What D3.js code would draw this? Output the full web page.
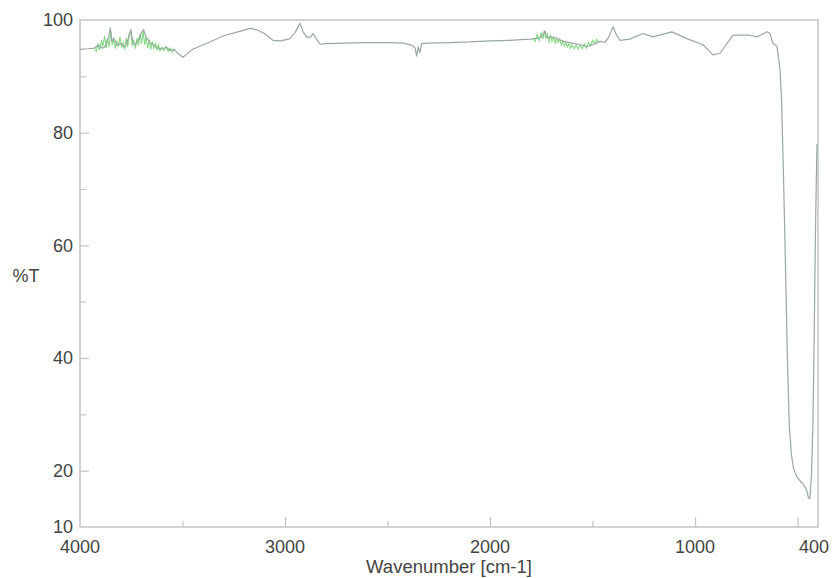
<!DOCTYPE html>
<html>
<head>
<meta charset="utf-8">
<script src="https://cdn.jsdelivr.net/npm/d3@7/dist/d3.min.js"></script>
<style>
  html, body { margin: 0; padding: 0; background: #fff; }
  svg { display: block; }
  text { font-family: "Liberation Sans", Arial, Helvetica, sans-serif; fill: #444; }
</style>
</head>
<body>
<svg id="chart" width="834" height="578"></svg>
<script>
// ---- data ----
const xTicks = [4000, 3000, 2000, 1000, 400];
const xMinorTicks = [3500, 2500, 1500, 500];
const yTicks = [100, 80, 60, 40, 20, 10];
const yMinorTicks = [90, 70, 50, 30];
const xTitle = "Wavenumber [cm-1]";
const yTitle = "%T";

// main (gray) spectrum: [wavenumber, %T]
const spectrum = [
  [4000, 94.8], [3960, 94.9], [3930, 95.0], [3910, 95.6], [3890, 95.0], [3880, 95.2],
  [3860, 97.0], [3852, 98.6], [3845, 96.2], [3835, 96.8], [3820, 95.5], [3800, 95.8],
  [3785, 95.2], [3770, 96.0], [3752, 98.3], [3742, 96.0], [3730, 95.6], [3715, 96.5],
  [3700, 97.8], [3690, 98.3], [3678, 97.0], [3668, 96.5], [3655, 95.8], [3640, 95.6],
  [3620, 95.0], [3600, 94.8], [3580, 95.2], [3560, 94.6], [3540, 94.8], [3520, 94.0],
  [3498, 93.4], [3480, 93.9], [3450, 94.8], [3366, 96.1], [3300, 97.2], [3230, 97.9],
  [3170, 98.5], [3140, 98.3], [3100, 97.6], [3059, 96.4], [3020, 96.3], [2976, 96.7],
  [2950, 97.8], [2927, 99.4], [2910, 97.8], [2893, 96.9], [2875, 97.0], [2863, 97.6],
  [2845, 96.5], [2829, 95.7], [2800, 95.8], [2700, 95.9], [2600, 96.0], [2500, 96.0],
  [2420, 95.9], [2380, 95.5], [2365, 95.0], [2358, 93.6], [2350, 95.2], [2342, 94.2],
  [2333, 95.8], [2300, 95.9], [2200, 96.0], [2100, 96.1], [2000, 96.3], [1900, 96.4],
  [1850, 96.5], [1800, 96.6], [1760, 96.8], [1745, 97.2], [1732, 98.0], [1722, 96.8],
  [1707, 97.0], [1680, 96.8], [1659, 96.5], [1640, 96.2], [1600, 95.9], [1560, 95.6],
  [1527, 95.3], [1500, 95.6], [1463, 96.2], [1440, 96.0], [1420, 97.0], [1400, 98.8],
  [1385, 97.5], [1366, 96.4], [1317, 96.6], [1255, 97.6], [1205, 97.0], [1113, 97.9],
  [1040, 96.7], [961, 95.6], [912, 93.8], [878, 94.1], [815, 97.3], [732, 97.3],
  [698, 97.0], [649, 97.9], [634, 97.6], [620, 95.9], [600, 95.3], [585, 91.1],
  [578, 86.0], [570, 75.0], [562, 62.0], [555, 50.0], [548, 38.0], [540, 28.0],
  [530, 23.0], [520, 20.5], [505, 19.0], [490, 18.3], [470, 17.5], [455, 16.5],
  [447, 15.2], [440, 15.0], [432, 19.0], [425, 28.0], [420, 40.0], [415, 55.0],
  [410, 68.0], [405, 78.0]
];

// noisy (green) segments: water-vapour regions
const noiseHigh = [
  [3930, 95.0], [3920, 94.4], [3912, 95.8], [3905, 94.6], [3895, 96.4], [3888, 95.3],
  [3880, 97.2], [3872, 95.0], [3865, 96.8], [3858, 95.2], [3850, 98.0], [3843, 95.6],
  [3836, 96.6], [3828, 94.9], [3820, 96.2], [3812, 95.4], [3805, 97.0], [3797, 95.1],
  [3790, 96.0], [3782, 94.8], [3775, 96.8], [3767, 95.2], [3760, 97.6], [3752, 97.8],
  [3745, 95.4], [3738, 96.5], [3730, 94.9], [3722, 96.8], [3715, 95.5], [3707, 97.5],
  [3700, 95.8], [3692, 98.0], [3685, 95.6], [3678, 97.0], [3670, 95.0], [3662, 96.5],
  [3655, 94.8], [3647, 96.2], [3640, 95.0], [3632, 95.8], [3625, 94.6], [3617, 95.6],
  [3610, 94.5], [3600, 95.2], [3590, 94.6], [3580, 95.3], [3570, 94.4], [3560, 95.0],
  [3550, 94.3], [3540, 94.7]
];
const noiseLow = [
  [1790, 96.8], [1780, 96.2], [1770, 97.4], [1760, 96.4], [1750, 97.8], [1742, 96.6],
  [1735, 98.2], [1728, 96.8], [1720, 97.5], [1712, 96.0], [1705, 97.4], [1698, 96.2],
  [1690, 97.0], [1682, 95.9], [1675, 96.8], [1668, 96.0], [1660, 96.6], [1652, 95.6],
  [1645, 96.2], [1637, 95.4], [1630, 96.0], [1622, 95.2], [1615, 95.8], [1607, 95.0],
  [1600, 95.6], [1590, 94.9], [1580, 95.6], [1570, 94.8], [1560, 95.5], [1550, 94.9],
  [1540, 95.8], [1530, 95.0], [1520, 96.0], [1510, 95.4], [1500, 96.4], [1490, 95.8],
  [1480, 96.6], [1470, 96.0]
];

// ---- layout ----
const svg = d3.select("#chart");
const mLeft = 80, mRight = 818, mTop = 20, mBottom = 527;

const x = d3.scaleLinear().domain([4000, 400]).range([mLeft, mRight]);
const y = d3.scaleLinear().domain([10, 100]).range([mBottom, mTop]);

const frameColor = "#c4c4c4";

// frame
svg.append("rect")
  .attr("x", mLeft).attr("y", mTop)
  .attr("width", mRight - mLeft).attr("height", mBottom - mTop)
  .attr("fill", "none").attr("stroke", frameColor).attr("stroke-width", 1.5);

// y axis (ticks inward)
const yAxis = d3.axisLeft(y).tickValues(yTicks.filter(v => v !== 100 && v !== 10)).tickSize(-9).tickFormat("");
svg.append("g").attr("transform", `translate(${mLeft},0)`).call(yAxis)
  .call(g => g.select(".domain").remove())
  .call(g => g.selectAll("line").attr("stroke", frameColor).attr("stroke-width", 1.2));
const yMinor = d3.axisLeft(y).tickValues(yMinorTicks).tickSize(-6).tickFormat("");
svg.append("g").attr("transform", `translate(${mLeft},0)`).call(yMinor)
  .call(g => g.select(".domain").remove())
  .call(g => g.selectAll("line").attr("stroke", frameColor).attr("stroke-width", 1.2));

// x axis (ticks inward)
const xAxis = d3.axisBottom(x).tickValues(xTicks.filter(v => v !== 4000 && v !== 400).concat([500])).tickSize(-10).tickFormat("");
svg.append("g").attr("transform", `translate(0,${mBottom})`).call(xAxis)
  .call(g => g.select(".domain").remove())
  .call(g => g.selectAll("line").attr("stroke", frameColor).attr("stroke-width", 1.2));
const xMinor = d3.axisBottom(x).tickValues(xMinorTicks.filter(v => v !== 500)).tickSize(-6).tickFormat("");
svg.append("g").attr("transform", `translate(0,${mBottom})`).call(xMinor)
  .call(g => g.select(".domain").remove())
  .call(g => g.selectAll("line").attr("stroke", frameColor).attr("stroke-width", 1.2));

// tick labels
svg.append("g").selectAll("text").data(yTicks).join("text")
  .attr("x", mLeft - 7).attr("y", d => y(d)).attr("dy", "0.36em")
  .attr("text-anchor", "end").attr("font-size", 18).text(d => d);

svg.append("g").selectAll("text").data(xTicks).join("text")
  .attr("x", d => d === 400 ? x(d) - 4 : x(d)).attr("y", 553)
  .attr("text-anchor", "middle").attr("font-size", 18).text(d => d);

// titles
svg.append("text").attr("x", 449).attr("y", 573).attr("text-anchor", "middle")
  .attr("font-size", 18.5).text(xTitle);
svg.append("text").attr("x", 26).attr("y", 276).attr("dy", "0.36em").attr("text-anchor", "middle")
  .attr("font-size", 18).text(yTitle);

// lines
const line = d3.line().x(d => x(d[0])).y(d => y(d[1]));

svg.append("path").datum(noiseHigh).attr("d", line)
  .attr("fill", "none").attr("stroke", "#66d066").attr("stroke-width", 1.1).attr("opacity", 0.8);
svg.append("path").datum(noiseLow).attr("d", line)
  .attr("fill", "none").attr("stroke", "#66d066").attr("stroke-width", 1.1).attr("opacity", 0.8);

svg.append("path").datum(spectrum).attr("d", line)
  .attr("fill", "none").attr("stroke", "#9aa8a4").attr("stroke-width", 1.2)
  .attr("stroke-linejoin", "round");
</script>
</body>
</html>
